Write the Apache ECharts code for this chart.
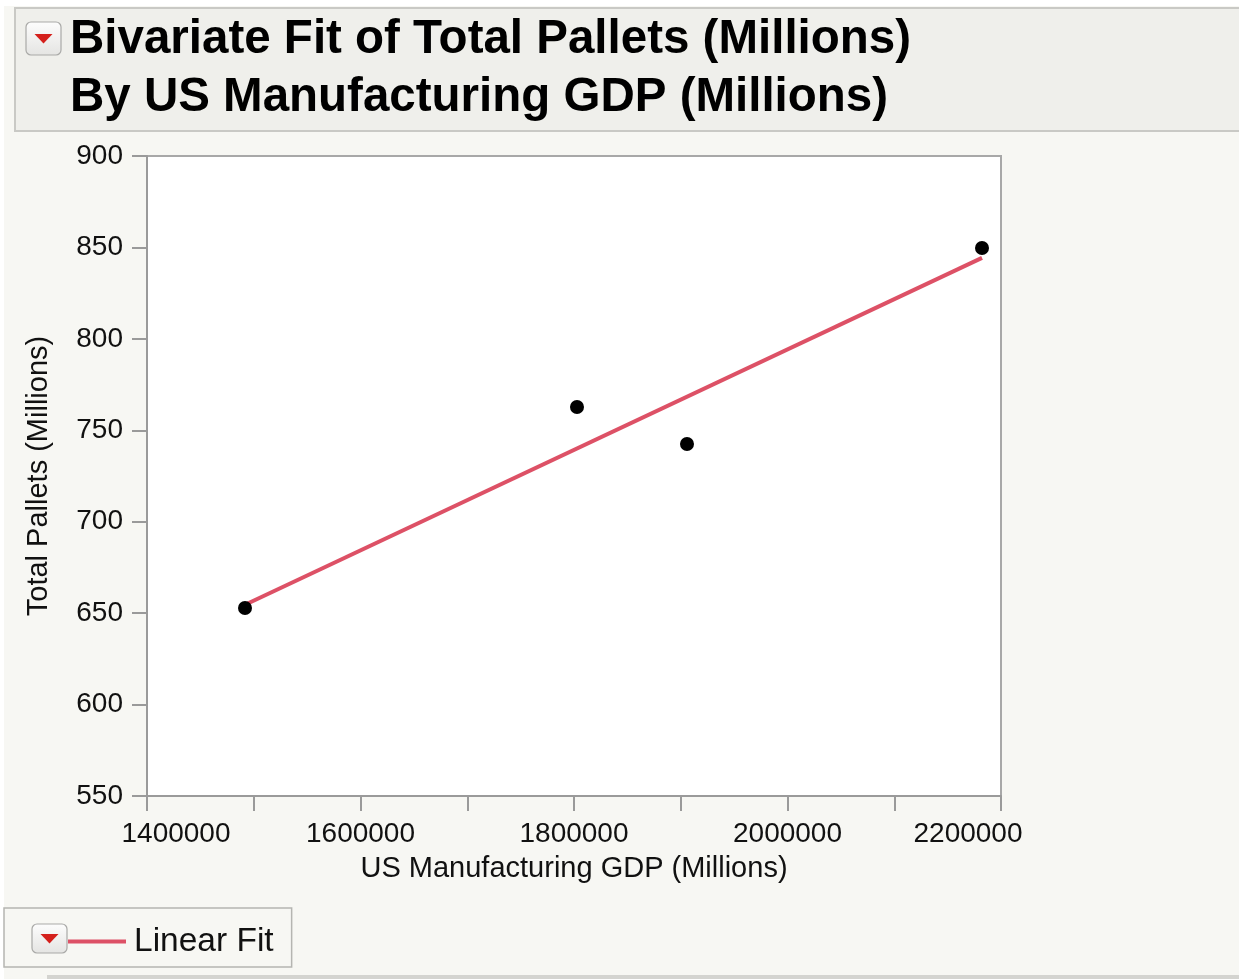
<!DOCTYPE html>
<html>
<head>
<meta charset="utf-8">
<title>Bivariate Fit of Total Pallets (Millions) By US Manufacturing GDP (Millions)</title>
<script src="https://cdn.jsdelivr.net/npm/echarts@6/dist/echarts.min.js"></script>
<style>
  html, body { margin: 0; padding: 0; background: #ffffff; }
  #chart { width: 1239px; height: 979px; }
</style>
</head>
<body>
<div id="chart"></div>
<script>
// Observations: US manufacturing GDP (millions) vs total pallets (millions)
const gdpValues = [1491800, 1802800, 1905850, 2182200];
const palletValues = [652.8, 762.7, 742.5, 849.7];

// Linear fit, evaluated at the smallest and largest GDP values
const fitGdp = [1491800, 2182200];
const fitPallets = [654.6, 844.3];

// Axis ranges and steps
const xMin = 1400000, xMax = 2200000, xStep = 100000, xLabelStep = 200000;
const yMin = 550, yMax = 900, yStep = 50;

const FONT = '"Liberation Sans", Arial, Helvetica, sans-serif';
const FIT_COLOR = '#dd5166';

const points = gdpValues.map((g, i) => [g, palletValues[i]]);
const fitLine = fitGdp.map((g, i) => [g, fitPallets[i]]);

// Small disclosure button: rounded box with a red down-pointing triangle
function disclosureButton(x, y, w, h) {
  const cx = x + w / 2, cy = y + h / 2;
  return {
    type: 'group',
    z: 100,
    children: [
      {
        type: 'rect',
        z: 100,
        shape: { x: x, y: y, width: w, height: h, r: 5 },
        style: {
          fill: new echarts.graphic.LinearGradient(0, 0, 0, 1, [
            { offset: 0, color: '#fdfdfd' },
            { offset: 1, color: '#e4e4e2' }
          ]),
          stroke: '#a9a9a7',
          lineWidth: 1.2
        }
      },
      {
        type: 'polygon',
        z: 101,
        shape: { points: [[cx - 9, cy - 4.5], [cx + 9, cy - 4.5], [cx, cy + 5]] },
        style: { fill: '#d4201c' }
      }
    ]
  };
}

const chart = echarts.init(document.getElementById('chart'), null, { renderer: 'canvas' });

chart.setOption({
  animation: false,
  textStyle: { fontFamily: FONT },
  title: {
    text: 'Bivariate Fit of Total Pallets (Millions)\nBy US Manufacturing GDP (Millions)',
    left: 70,
    top: 11,
    padding: 0,
    textStyle: {
      fontFamily: FONT,
      fontSize: 47.5,
      fontWeight: 'bold',
      lineHeight: 58,
      color: '#000000'
    },
    z: 15
  },
  graphic: [
    // panel background
    {
      type: 'rect', z: -10, silent: true,
      shape: { x: 4, y: 6, width: 1240, height: 980 },
      style: { fill: '#f7f7f3' }
    },
    // header band
    {
      type: 'rect', z: -5, silent: true,
      shape: { x: 15, y: 8, width: 1240, height: 123 },
      style: { fill: '#efefeb', stroke: '#c9c9c5', lineWidth: 2 }
    },
    // bottom divider
    {
      type: 'rect', z: -5, silent: true,
      shape: { x: 47, y: 975, width: 1200, height: 4 },
      style: { fill: '#d4d4d0' }
    },
    disclosureButton(26, 22, 35, 33),
    disclosureButton(32, 924, 35, 29)
  ],
  legend: {
    show: true,
    left: 4,
    top: 908,
    z: 1,
    orient: 'horizontal',
    padding: [15, 18, 7, 64],
    backgroundColor: '#f7f7f3',
    borderColor: '#b5b5b1',
    borderWidth: 1.5,
    itemWidth: 58,
    itemHeight: 4,
    icon: 'rect',
    data: [{ name: 'Linear Fit' }],
    textStyle: {
      fontFamily: FONT,
      fontSize: 33.5,
      lineHeight: 37,
      color: '#111111',
      padding: [0, 0, 0, 3]
    },
    selectedMode: false
  },
  grid: {
    left: 147,
    top: 156,
    width: 854,
    height: 640,
    show: true,
    backgroundColor: '#ffffff',
    borderColor: '#a8a8a8',
    borderWidth: 2,
    containLabel: false
  },
  xAxis: {
    type: 'value',
    min: xMin,
    max: xMax,
    interval: xStep,
    name: 'US Manufacturing GDP (Millions)',
    nameLocation: 'middle',
    nameGap: 58,
    nameTextStyle: { fontFamily: FONT, fontSize: 29, color: '#111111' },
    axisLine: { show: true, lineStyle: { color: '#9a9a9a', width: 2 } },
    axisTick: { show: true, inside: false, length: 15, lineStyle: { color: '#9a9a9a', width: 2 } },
    splitLine: { show: false },
    axisLabel: {
      show: true,
      margin: 24,
      fontFamily: FONT,
      fontSize: 28,
      color: '#111111',
      showMinLabel: true,
      showMaxLabel: true,
      formatter: function (v) {
        if ((v - xMin) % xLabelStep !== 0) return '';
        const s = String(v);
        if (v === xMin) return '{lo|' + s + '}';
        if (v === xMax) return '{hi|' + s + '}';
        return s;
      },
      rich: {
        lo: { fontFamily: FONT, fontSize: 28, color: '#111111', padding: [0, 0, 0, 58] },
        hi: { fontFamily: FONT, fontSize: 28, color: '#111111', padding: [0, 66, 0, 0] }
      }
    }
  },
  yAxis: {
    type: 'value',
    min: yMin,
    max: yMax,
    interval: yStep,
    name: 'Total Pallets (Millions)',
    nameLocation: 'middle',
    nameGap: 94,
    nameTextStyle: { fontFamily: FONT, fontSize: 29, color: '#111111' },
    axisLine: { show: true, lineStyle: { color: '#9a9a9a', width: 2 } },
    axisTick: { show: true, inside: false, length: 15, lineStyle: { color: '#9a9a9a', width: 2 } },
    splitLine: { show: false },
    axisLabel: {
      show: true,
      margin: 24,
      fontFamily: FONT,
      fontSize: 28,
      color: '#111111'
    }
  },
  series: [
    {
      name: 'Linear Fit',
      type: 'line',
      data: fitLine,
      showSymbol: false,
      symbol: 'none',
      lineStyle: { color: FIT_COLOR, width: 4 },
      itemStyle: { color: FIT_COLOR },
      z: 3,
      silent: true
    },
    {
      name: 'Observations',
      type: 'scatter',
      data: points,
      symbol: 'circle',
      symbolSize: 14,
      itemStyle: { color: '#000000', opacity: 1 },
      z: 4,
      silent: true
    }
  ]
});
</script>
</body>
</html>
